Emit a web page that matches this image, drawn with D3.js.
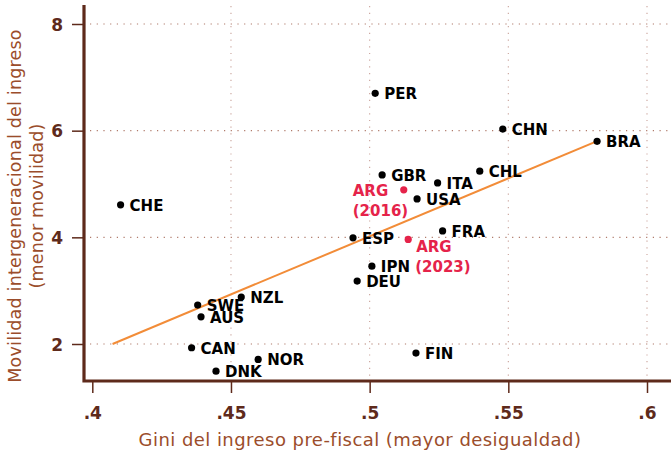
<!DOCTYPE html>
<html>
<head>
<meta charset="utf-8">
<script src="https://cdn.jsdelivr.net/npm/d3@7"></script>
<style>
  html, body { margin: 0; padding: 0; background: #fff; }
  svg { display: block; font-family: "DejaVu Sans", sans-serif; }
</style>
</head>
<body>
<div id="chart"></div>
<script>
// country codes, pre-fiscal gini and intergenerational mobility
const countries = ["PER", "CHN", "BRA", "GBR", "ITA", "CHL", "USA", "FRA", "ESP", "IPN", "DEU",
                   "CHE", "NZL", "SWE", "AUS", "CAN", "NOR", "DNK", "FIN"];
const gini = [0.502, 0.548, 0.582, 0.5045, 0.5245, 0.5397, 0.5171, 0.5263, 0.494, 0.5008, 0.4955,
              0.4102, 0.4537, 0.438, 0.4392, 0.4358, 0.4598, 0.4446, 0.5167];
const mobility = [6.70, 6.03, 5.80, 5.17, 5.02, 5.24, 4.72, 4.12, 3.99, 3.46, 3.18,
                  4.61, 2.88, 2.73, 2.51, 1.93, 1.71, 1.49, 1.83];

// Argentina highlighted
const argYears = ["(2016)", "(2023)"];
const argGini = [0.5123, 0.5139];
const argMobility = [4.89, 3.96];

// fitted line endpoints
const trendGini = [0.4073, 0.5818];
const trendMobility = [2.0, 5.80];

const xTicks = [0.4, 0.45, 0.5, 0.55, 0.6];
const xTickLabels = [".4", ".45", ".5", ".55", ".6"];
const yTicks = [2, 4, 6, 8];

const W = 671, H = 453;
const axisBrown = "#5e2a1b", titleBrown = "#9b4d2b", orange = "#f28c38", red = "#e5234a";

const svg = d3.select("#chart").append("svg")
  .attr("width", W).attr("height", H);

const x = d3.scaleLinear().domain([0.4, 0.6]).range([92.3, 647]);
const y = d3.scaleLinear().domain([2, 8]).range([344, 24]);

const axisX = 84, axisY = 381;

/* grid */
const grid = svg.append("g");
grid.selectAll(".gy").data(yTicks).join("line")
  .attr("x1", 90).attr("x2", W)
  .attr("y1", d => y(d)).attr("y2", d => y(d))
  .attr("stroke", "#b07a6a").attr("stroke-width", 1.1)
  .attr("stroke-dasharray", "1.2,5.5");
grid.selectAll(".gx").data(xTicks.slice(1)).join("line")
  .attr("x1", d => x(d)).attr("x2", d => x(d))
  .attr("y1", 6).attr("y2", axisY)
  .attr("stroke", "#c9a29a").attr("stroke-width", 1.1)
  .attr("stroke-dasharray", "1.2,5.5");

/* axes */
const gx = svg.append("g")
  .attr("transform", `translate(0, ${axisY})`)
  .call(d3.axisBottom(x).tickValues(xTicks).tickFormat((d, i) => xTickLabels[i]).tickSize(12).tickPadding(10));
gx.select(".domain").remove();

const gy = svg.append("g")
  .attr("transform", `translate(${axisX}, 0)`)
  .call(d3.axisLeft(y).tickValues(yTicks).tickFormat(d3.format("d")).tickSize(12).tickPadding(9));
gy.select(".domain").remove();

[gx, gy].forEach(g => {
  g.selectAll(".tick line").attr("stroke", axisBrown).attr("stroke-width", 1.5);
  g.selectAll(".tick text")
    .attr("fill", axisBrown)
    .style("font-family", "DejaVu Sans")
    .style("font-size", "17px")
    .style("font-weight", 700);
});
gx.selectAll(".tick text").attr("dy", "0.95em");
gy.selectAll(".tick text").attr("dy", "0.36em");

svg.append("path")
  .attr("d", `M${axisX},5 V${axisY} H${W}`)
  .attr("fill", "none")
  .attr("stroke", axisBrown)
  .attr("stroke-width", 3.2);

/* axis titles */
svg.append("text")
  .attr("x", 360).attr("y", 446)
  .attr("text-anchor", "middle")
  .attr("fill", titleBrown)
  .style("font-size", "18px")
  .style("letter-spacing", "0.45px")
  .text("Gini del ingreso pre-fiscal (mayor desigualdad)");

const yTitle = svg.append("text")
  .attr("transform", "translate(21, 206) rotate(-90)")
  .attr("text-anchor", "middle")
  .attr("fill", titleBrown)
  .style("font-size", "17.5px")
  .style("letter-spacing", "0.2px");
yTitle.append("tspan").attr("x", 0).attr("dy", 0).text("Movilidad intergeneracional del ingreso");
yTitle.append("tspan").attr("x", 0).attr("dy", 22).text("(menor movilidad)");

/* trend line */
svg.append("line")
  .attr("x1", x(trendGini[0])).attr("y1", y(trendMobility[0]))
  .attr("x2", x(trendGini[1])).attr("y2", y(trendMobility[1]))
  .attr("stroke", orange).attr("stroke-width", 2);

/* countries */
const pts = countries.map((c, i) => ({ c, g: gini[i], m: mobility[i] }));

svg.selectAll(".dot").data(pts).join("circle")
  .attr("cx", d => x(d.g)).attr("cy", d => y(d.m))
  .attr("r", 3.6).attr("fill", "#000");

svg.selectAll(".lbl").data(pts).join("text")
  .attr("x", d => x(d.g) + 9).attr("y", d => y(d.m) + 6)
  .attr("fill", "#000")
  .style("font-size", "15px")
  .style("font-weight", 700)
  .text(d => d.c);

/* Argentina */
const arg = argYears.map((yr, i) => ({ yr, g: argGini[i], m: argMobility[i] }));
svg.selectAll(".argdot").data(arg).join("circle")
  .attr("cx", d => x(d.g)).attr("cy", d => y(d.m))
  .attr("r", 3.6).attr("fill", red);

const argText = svg.selectAll(".argtxt").data(arg).join("text")
  .attr("fill", red)
  .style("font-size", "15px")
  .style("font-weight", 700)
  .attr("transform", (d, i) => i === 0
    ? `translate(${x(d.g) - 51}, ${y(d.m) + 6})`
    : `translate(${x(d.g) + 7}, ${y(d.m) + 13})`);
argText.append("tspan").attr("x", (d, i) => i === 0 ? 0 : 1).attr("dy", 0).text("ARG");
argText.append("tspan").attr("x", 0).attr("dy", 20).text(d => d.yr);
</script>
</body>
</html>
